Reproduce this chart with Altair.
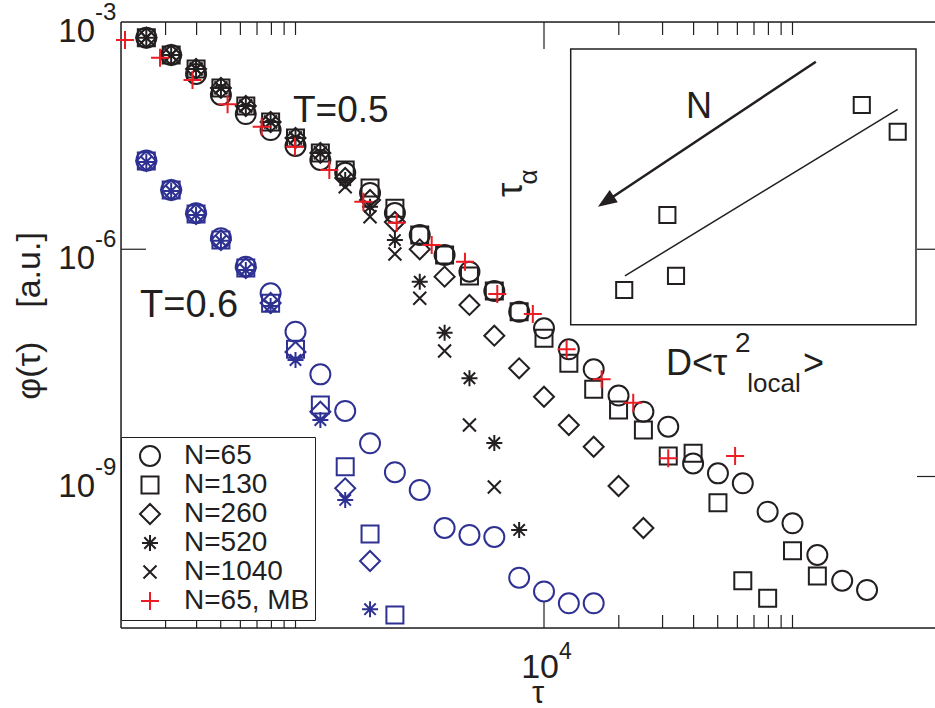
import altair as alt
import pandas as pd

FONT = "Liberation Sans"
INK = "#231f20"
BLUE = "#2e3192"
RED = "#ed1c24"

# ---------------- data ----------------
tau_grid = [251, 316, 398, 501, 631, 794, 1000, 1259, 1585, 1995, 2512, 3162, 3981,
            5012, 6310, 7943, 10000, 12589, 15849, 19953, 25119, 31623, 39811, 50119,
            63096, 79433, 100000, 125893, 158489, 199526]

# T = 0.5
phi_05_n65 = [6.21e-4, 3.67e-4, 2.06e-4, 1.09e-4, 6.10e-5, 3.75e-5, 2.31e-5, 1.51e-5,
              1.02e-5, 5.53e-6, 3.01e-6, 1.54e-6, 8.39e-7, 5.05e-7, 2.81e-7, 1.50e-7,
              9.04e-8, 4.78e-8, 2.60e-8, 1.17e-8, 7.17e-9, 4.54e-9, 1.49e-9, 1.10e-9,
              8.13e-10, 3.43e-10, 2.41e-10, 9.20e-11, 4.21e-11, 3.18e-11]
phi_05_n130 = [6.21e-4, 3.67e-4, 2.40e-4, 1.35e-4, 7.78e-5, 4.79e-5, 2.94e-5, 1.87e-5,
               1.11e-5, 6.44e-6, 3.48e-6, 1.54e-6, 8.39e-7, 4.44e-7, 2.81e-7, 1.50e-7,
               6.67e-8, 3.12e-8, 1.42e-8, 7.55e-9, 4.11e-9, 1.87e-9, 2.02e-9, 4.51e-10,
               4.21e-11, 2.47e-11, 1.05e-10, 4.86e-11]
phi_05_n260 = [6.21e-4, 3.67e-4, 2.40e-4, 1.35e-4, 7.78e-5, 4.79e-5, 2.94e-5, 1.87e-5,
               8.73e-6, 4.47e-6, 2.29e-6, 9.98e-7, 4.35e-7, 1.84e-7, 7.23e-8, 2.68e-8,
               1.13e-8, 4.79e-9, 2.47e-9, 7.50e-10, 2.09e-10]
phi_05_n520 = [6.21e-4, 3.67e-4, 2.40e-4, 1.35e-4, 7.78e-5, 4.79e-5, 2.94e-5, 1.87e-5,
               8.20e-6, 3.65e-6, 1.32e-6, 3.73e-7, 7.91e-8, 1.98e-8, 2.77e-9, 1.97e-10]
phi_05_n1040 = [6.21e-4, 3.67e-4, 2.40e-4, 1.35e-4, 7.78e-5, 4.79e-5, 2.94e-5, 1.87e-5,
                6.70e-6, 2.69e-6, 8.65e-7, 2.25e-7, 4.54e-8, 4.79e-9, 7.26e-10]

# T = 0.5, N=65, MB
tau_mb = [206, 285, 385, 533, 731, 995, 1368, 1875, 2553, 3532, 4808, 6486, 9016,
          12330, 17060, 22860, 31620, 58750]
phi_mb = [5.78e-4, 3.38e-4, 1.71e-4, 8.20e-5, 4.15e-5, 2.26e-5, 1.11e-5, 4.24e-6,
          2.24e-6, 1.14e-6, 6.85e-7, 2.56e-7, 1.40e-7, 4.78e-8, 1.92e-8, 9.42e-9,
          1.74e-9, 1.87e-9]

# T = 0.6
phi_06_n65 = [1.48e-5, 6.05e-6, 2.98e-6, 1.40e-6, 5.89e-7, 2.62e-7, 8.16e-8, 2.23e-8,
              7.33e-9, 2.74e-9, 1.14e-9, 6.64e-10, 2.09e-10, 1.69e-10, 1.59e-10,
              4.61e-11, 3.04e-11, 2.12e-11, 2.12e-11]
phi_06_n130 = [1.46e-5, 6.05e-6, 2.92e-6, 1.32e-6, 5.65e-7, 1.93e-7, 4.78e-8, 8.79e-9,
               1.35e-9, 1.74e-10, 1.49e-11]
phi_06_n260 = [1.46e-5, 6.05e-6, 2.92e-6, 1.32e-6, 5.65e-7, 1.95e-7, 4.40e-8, 7.16e-9,
               6.98e-10, 7.66e-11]
phi_06_n520 = [1.42e-5, 5.87e-6, 2.83e-6, 1.29e-6, 5.32e-7, 1.78e-7, 3.45e-8, 5.57e-9,
               4.90e-10, 1.77e-11]

series_names = ["N=65", "N=130", "N=260", "N=520", "N=1040", "N=65, MB"]

# inset (normalised inset coordinates, no axes)
inset_x = [0.843, 0.947, 0.280, 0.305, 0.155]
inset_y = [0.797, 0.700, 0.398, 0.177, 0.126]
fit_x = [0.157, 0.947]
fit_y = [0.177, 0.781]
arrow_from = [0.710, 0.954]
arrow_to = [0.115, 0.458]
arrow_tip = [0.079, 0.428]

# axis ticks
x_major_ticks = [1e4]
x_minor_ticks = [300, 400, 500, 600, 700, 800, 900, 1000,
                 20000, 30000, 40000, 50000, 60000, 70000, 80000, 90000, 100000]
y_major_ticks = [1e-6, 1e-9]
y_label_vals = [1e-3, 1e-6, 1e-9]
y_label_sup = ["-3", "-6", "-9"]

# ---------------- styles ----------------
SQUARE = "M-0.85,-0.85L0.85,-0.85L0.85,0.85L-0.85,0.85Z"
ASTER = "M0,-0.8L0,0.8M-0.8,0L0.8,0M-0.57,-0.57L0.57,0.57M-0.57,0.57L0.57,-0.57"
CROSS = "M-0.65,-0.65L0.65,0.65M-0.65,0.65L0.65,-0.65"
PLUS = "M-0.9,0L0.9,0M0,-0.9L0,0.9"
HEAD = "M0,0L0.7,1.8L-0.7,1.8Z"
series_shapes = ["circle", SQUARE, "diamond", ASTER, CROSS, PLUS]
series_colors = [INK, INK, INK, INK, INK, RED]

W, H = 814, 606

# ---------------- tables ----------------
rows = []
for name, vals in zip(series_names[:5], [phi_05_n65, phi_05_n130, phi_05_n260,
                                         phi_05_n520, phi_05_n1040]):
    for t, p in zip(tau_grid, vals):
        rows.append({"tau": t, "phi": p, "series": name})
for t, p in zip(tau_mb, phi_mb):
    rows.append({"tau": t, "phi": p, "series": "N=65, MB"})
df05 = pd.DataFrame(rows)

rows = []
for name, vals in zip(series_names[:4], [phi_06_n65, phi_06_n130, phi_06_n260, phi_06_n520]):
    for t, p in zip(tau_grid, vals):
        rows.append({"tau": t, "phi": p, "series": name})
df06 = pd.DataFrame(rows)

xs = alt.Scale(type="log", domain=[198.5, 374500], nice=False)
ys = alt.Scale(type="log", domain=[1e-11, 1e-3], nice=False)
X = alt.X("tau:Q", scale=xs, axis=None)
Y = alt.Y("phi:Q", scale=ys, axis=None)

leg = alt.Legend(title=None, orient="none", legendX=0, legendY=415, direction="vertical",
                 fillColor="white", strokeColor=INK, padding=5, symbolOffset=10,
                 labelOffset=20, labelFontSize=28, labelFont=FONT, labelColor=INK,
                 symbolSize=400, symbolStrokeWidth=2, rowPadding=1, labelLimit=400)
shape_scale = alt.Scale(domain=series_names, range=series_shapes)
color_scale = alt.Scale(domain=series_names, range=series_colors)

pts06 = alt.Chart(df06).mark_point(filled=False, size=400, strokeWidth=2, color=BLUE,
                                   opacity=1).encode(
    x=X, y=Y, shape=alt.Shape("series:N", scale=shape_scale, legend=leg))

pts05 = alt.Chart(df05).mark_point(filled=False, size=400, strokeWidth=2, opacity=1).encode(
    x=X, y=Y,
    color=alt.Color("series:N", scale=color_scale, legend=leg),
    shape=alt.Shape("series:N", scale=shape_scale, legend=leg))

one = pd.DataFrame({"k": [0]})


def frame_line(x, x2, y, y2):
    return alt.Chart(one).mark_rule(color=INK, strokeWidth=1.5).encode(
        x=alt.value(x), x2=alt.value(x2), y=alt.value(y), y2=alt.value(y2))


frame = [frame_line(0, W, 0, 0), frame_line(0, W, H, H), frame_line(0, 0, 0, H)]


def xticks(vals, y, y2):
    return alt.Chart(pd.DataFrame({"tau": vals})).mark_rule(color=INK, strokeWidth=1.2).encode(
        x=X, y=alt.value(y), y2=alt.value(y2))


def yticks(vals, x, x2):
    return alt.Chart(pd.DataFrame({"phi": vals})).mark_rule(color=INK, strokeWidth=1.2).encode(
        y=Y, x=alt.value(x), x2=alt.value(x2))


ticks = [xticks(x_major_ticks, H, H - 27), xticks(x_major_ticks, 0, 27),
         xticks(x_minor_ticks, H, H - 13), xticks(x_minor_ticks, 0, 13),
         yticks(y_major_ticks, 0, 25), yticks(y_major_ticks, W - 18, W)]

ylab_df = pd.DataFrame({"phi": y_label_vals, "base": ["10"] * 3, "sup": y_label_sup})
ylab = alt.Chart(ylab_df).mark_text(align="right", baseline="alphabetic", dy=20, fontSize=33,
                                    font=FONT, color=INK).encode(
    y=Y, x=alt.value(-26), text="base:N")
ylab_sup = alt.Chart(ylab_df).mark_text(align="left", baseline="alphabetic", dy=-2, fontSize=24,
                                        font=FONT, color=INK).encode(
    y=Y, x=alt.value(-26), text="sup:N")
xlab_df = pd.DataFrame({"tau": x_major_ticks, "base": ["10"], "sup": ["4"]})
xlab = alt.Chart(xlab_df).mark_text(align="right", baseline="alphabetic", dx=15, fontSize=34,
                                    font=FONT, color=INK).encode(
    x=X, y=alt.value(656), text="base:N")
xlab_sup = alt.Chart(xlab_df).mark_text(align="left", baseline="alphabetic", dx=15, fontSize=23,
                                        font=FONT, color=INK).encode(
    x=X, y=alt.value(637), text="sup:N")


def label(text, x, y, size, align="left", baseline="alphabetic", angle=0):
    kw = dict(align=align, baseline=baseline, fontSize=size, font=FONT, color=INK)
    if angle:
        kw["angle"] = angle
    return alt.Chart(pd.DataFrame({"t": [text]})).mark_text(**kw).encode(
        x=alt.value(x), y=alt.value(y), text="t:N")


texts = [
    label("T=0.5", 172, 100, 37),
    label("T=0.6", 19, 295, 38),
    label("φ(τ)\u2002\u2002[a.u.]", -91, 294, 34, align="center", baseline="middle", angle=270),
    label("τ", 417, 681, 31, align="center"),
    label("τ", 400.7, 168, 36, align="center", angle=270),
    label("α", 416, 155, 26, align="center", angle=270),
    label("D<τ", 545, 353, 36),
    label("2", 614, 329.7, 28),
    label("local", 626.3, 369.7, 26),
    label(">", 682, 353, 36),
]

main = alt.layer(*frame, *ticks, pts06, pts05, ylab, ylab_sup, xlab, xlab_sup, *texts)

# ---------------- inset ----------------
ixs = alt.Scale(domain=[0, 1], range=[449.7, 795], nice=False, zero=False)
iys = alt.Scale(domain=[0, 1], range=[302.7, 27], nice=False, zero=False)
IX = alt.X("ix:Q", scale=ixs, axis=None)
IY = alt.Y("iy:Q", scale=iys, axis=None)

box = alt.Chart(pd.DataFrame({"ix": [0], "ix2": [1], "iy": [0], "iy2": [1]})).mark_rect(
    fill="white", stroke=INK, strokeWidth=1.5).encode(x=IX, x2="ix2:Q", y=IY, y2="iy2:Q")
fit = alt.Chart(pd.DataFrame({"ix": fit_x, "iy": fit_y})).mark_line(
    color=INK, strokeWidth=1.5).encode(x=IX, y=IY)
isq = alt.Chart(pd.DataFrame({"ix": inset_x, "iy": inset_y})).mark_point(
    shape=SQUARE, size=360, filled=False, strokeWidth=2, color=INK, opacity=1).encode(x=IX, y=IY)
arrow = alt.Chart(pd.DataFrame({"ix": [arrow_from[0]], "ix2": [arrow_to[0]],
                                "iy": [arrow_from[1]], "iy2": [arrow_to[1]]})).mark_rule(
    color=INK, strokeWidth=2.5).encode(x=IX, x2="ix2:Q", y=IY, y2="iy2:Q")
head = alt.Chart(pd.DataFrame({"ix": [arrow_tip[0]], "iy": [arrow_tip[1]]})).mark_point(
    shape=HEAD, size=441, filled=True, color=INK, opacity=1, angle=236.4).encode(x=IX, y=IY)
n_label = label("N", 578, 96, 36, align="center")

inset = alt.layer(box, fit, isq, arrow, head, n_label)

chart = alt.layer(main, inset).resolve_scale(x="independent", y="independent").properties(
    width=W, height=H,
    padding={"left": 121, "top": 22, "right": 0, "bottom": 80},
    autosize=alt.AutoSizeParams(type="none"),
    background="white",
).configure_view(stroke=None).configure(font=FONT)

chart.save("out.html", embed_options={"renderer": "svg", "actions": False})
